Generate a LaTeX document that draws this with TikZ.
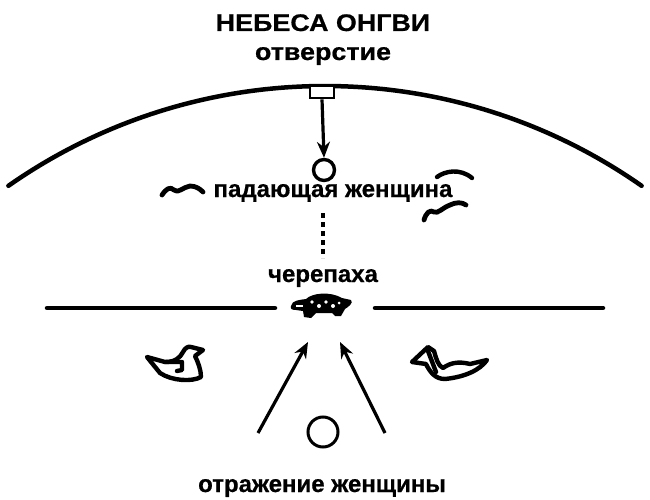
\documentclass[tikz,border=0pt]{standalone}
\usepackage{fontspec}
\setmainfont{Liberation Sans}[BoldFeatures={FakeBold=0.6}]
\newfontfamily\widesans{Liberation Sans}[FakeStretch=1.12, BoldFeatures={FakeBold=0.6}]
\usetikzlibrary{arrows.meta}
\begin{document}
\begin{tikzpicture}[x=1pt,y=-1pt,
  lbl/.style={font=\bfseries\fontsize{24}{26}\selectfont, inner sep=0pt, anchor=base},
  widelbl/.style={lbl, font=\widesans\bfseries\fontsize{24}{26}\selectfont},
  thick line/.style={line width=4.5pt, line cap=round},
  ink/.style={line width=4.4pt, line cap=round, line join=round},
  arr/.style={line width=3.2pt, -{Stealth[length=16pt,width=13pt]}},
  ]
\useasboundingbox (0,0) rectangle (650,500);
% titles
\node[widelbl] (title) at (323,31) {НЕБЕСА ОНГВИ};
\node[widelbl] (holelbl) at (323,60) {отверстие};
% sky arc
\draw[thick line] (325,638) ++(-125:552) arc[start angle=-125, end angle=-55, radius=552];
% hole
\node[draw, fill=white, line width=2.8pt, minimum width=24pt, minimum height=12pt, inner sep=0pt] (hole) at (322,92) {};
% falling woman
\node[circle, draw, line width=3.4pt, minimum size=21pt, inner sep=0pt] (woman) at (324,170) {};
\draw[arr] (hole.south) -- (woman.north);
\node[lbl] (fall) at (333,197) {падающая женщина};
% birds
\draw[ink, line width=4.8pt] (162,195) .. controls (166,189) and (170,186) .. (174,190) .. controls (178,194) and (183,187) .. (190,186) .. controls (196,186) and (200,189) .. (203,192);
\draw[ink, line width=4.4pt] (437,177) .. controls (445,171) and (460,168) .. (472,178);
\draw[ink, line width=4.8pt] (424,220) .. controls (426,213) and (430,209) .. (434,212) .. controls (438,214) and (442,208) .. (450,205) .. controls (456,202) and (462,202) .. (466,205);
% dotted line
\coordinate (d1) at (323,213);
\coordinate (d2) at (323,258);
\draw[line width=3.2pt, dash pattern=on 5pt off 4pt] (d1) -- (d2);
% turtle
\node[lbl] (turtlelbl) at (323,282) {черепаха};
\coordinate (wl1) at (47,308);
\coordinate (wl2) at (275,308);
\coordinate (wr1) at (375,308);
\coordinate (wr2) at (603,308);
\draw[thick line] (wl1) -- (wl2);
\draw[thick line] (wr1) -- (wr2);
\fill (291,306) .. controls (292,300) and (300,300) .. (306,299)
  .. controls (312,293) and (330,291) .. (342,298)
  -- (351,300) .. controls (354,303) and (348,307) .. (345,309)
  -- (341,316) -- (335,316) -- (332,313) -- (316,313) -- (311,318) -- (304,317) -- (303,311)
  -- (296,310) .. controls (292,310) and (290,309) .. (291,306) -- cycle;
\fill[white] (296,305) rectangle (303,307);
\fill[white] (312,302) circle (1.8);
\fill[white] (319,306) circle (2);
\fill[white] (326,302) circle (1.8);
\fill[white] (333,306) circle (2);
\fill[white] (339,303) circle (1.5);
% ducks
\draw[ink] (147,357) -- (165,362) .. controls (175,362) and (180,358) .. (183,352)
  .. controls (185,348) and (188,346) .. (191,347) -- (203,350) -- (195,356)
  .. controls (198,362) and (201,370) .. (201,377) .. controls (192,382) and (172,381) .. (160,373) -- cycle;
\draw[ink] (165,362) -- (182,362) -- (182,370) -- (177,371);
\draw[ink] (412,362) -- (428,347) -- (434,351) .. controls (436,358) and (438,366) .. (443,368)
  .. controls (450,363) and (458,361) .. (470,364) -- (487,360)
  .. controls (480,370) and (465,377) .. (445,379) .. controls (435,379) and (430,372) .. (426,364) -- cycle;
\draw[ink] (428,351) -- (436,372);
% reflection
\node[circle, draw, line width=3pt, minimum size=30pt, inner sep=0pt] (refl) at (323,432) {};
\coordinate (al) at (258,433);
\coordinate (ar) at (385,433);
\coordinate (tl) at (308,342);
\coordinate (tr) at (340,342);
\draw[arr] (al) -- (tl);
\draw[arr] (ar) -- (tr);
\node[lbl] (refllbl) at (322,492) {отражение женщины};
\end{tikzpicture}
\end{document}
